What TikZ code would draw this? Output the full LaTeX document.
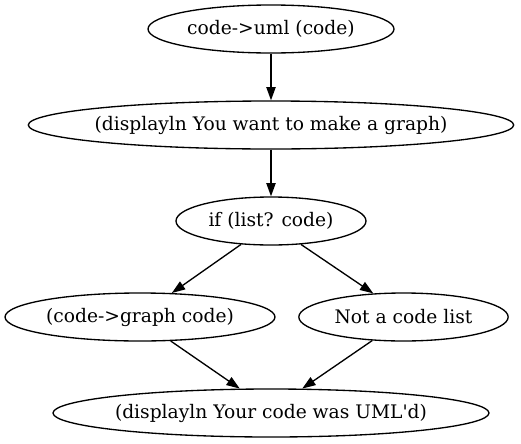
\documentclass[tikz,border=0pt]{standalone}
\usepackage{fontspec}
\setmainfont{DejaVu Serif}[Ligatures=TeXOff]
\usetikzlibrary{shapes.geometric,arrows.meta}
\newcommand{\gvt}[1]{\makebox[0pt]{#1}}
\begin{document}
\begin{tikzpicture}[x=0.75pt,y=-0.75pt,
  gv/.style={ellipse,draw,line width=1pt,inner sep=0pt,minimum height=36pt,font=\fontsize{14pt}{16pt}\selectfont},
  gvedge/.style={line width=1pt,-{Triangle[length=10pt,width=7pt]}}]
\useasboundingbox (0,0) rectangle (521,443);
\node[gv,minimum width=184.5pt] (n1) at (271,29) {\gvt{code->uml (code)}};
\node[gv,minimum width=364pt] (n2) at (271,125) {\gvt{(displayln You want to make a graph)}};
\node[gv,minimum width=142.5pt] (n3) at (271,221) {\gvt{if (list? code)}};
\node[gv,minimum width=202.5pt] (n4) at (140,317) {\gvt{(code->graph code)}};
\node[gv,minimum width=157pt] (n5) at (403.5,317) {\gvt{Not a code list}};
\node[gv,minimum width=327pt] (n6) at (271,413) {\gvt{(displayln Your code was UML'd)}};
\draw[gvedge] (n1) -- (n2);
\draw[gvedge] (n2) -- (n3);
\draw[gvedge] (n3.218) -- (n4.37);
\draw[gvedge] (n3.322) -- (n5.142);
\draw[gvedge] (n4.322) -- (n6.142);
\draw[gvedge] (n5.217) -- (n6.38);
\end{tikzpicture}
\end{document}
